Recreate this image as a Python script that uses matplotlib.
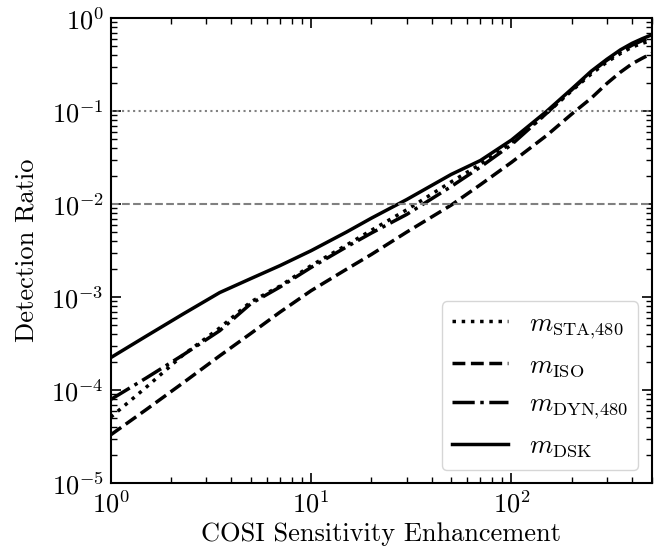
import numpy as np
import matplotlib
matplotlib.use("Agg")
import matplotlib.pyplot as plt

# ----------------------------
# Data (log10 of detection ratio)
# ----------------------------
enhancement = [1, 1.5, 2.3, 3.5, 5, 7, 10, 15, 20, 30, 50, 70, 100, 150, 200,
               250, 300, 350, 400, 450, 500]

log_sta = [-4.29, -3.97, -3.62, -3.33, -3.05, -2.88, -2.66, -2.44, -2.28, -2.06,
           -1.76, -1.57, -1.34, -1.02, -0.78, -0.60, -0.47, -0.38, -0.31, -0.27, -0.24]
log_iso = [-4.48, -4.21, -3.92, -3.63, -3.39, -3.16, -2.93, -2.70, -2.54, -2.30,
           -2.01, -1.79, -1.55, -1.26, -1.03, -0.86, -0.70, -0.58, -0.49, -0.43, -0.38]
log_dyn = [-4.10, -3.87, -3.62, -3.36, -3.07, -2.89, -2.68, -2.46, -2.31, -2.11,
           -1.81, -1.60, -1.36, -1.02, -0.77, -0.58, -0.45, -0.36, -0.29, -0.24, -0.21]
log_dsk = [-3.65, -3.42, -3.18, -2.95, -2.80, -2.66, -2.50, -2.30, -2.15, -1.95,
           -1.68, -1.53, -1.31, -1.00, -0.76, -0.57, -0.44, -0.34, -0.27, -0.22, -0.18]

labels = [r"$m_{\mathrm{STA{,}480}}$", r"$m_{\mathrm{ISO}}$",
          r"$m_{\mathrm{DYN{,}480}}$", r"$m_{\mathrm{DSK}}$"]
styles = [":", "--", "-.", "-"]
thresholds = [0.1, 0.01]
threshold_styles = [":", "--"]

# ----------------------------
# Style
# ----------------------------
plt.rcParams["font.family"] = "serif"
plt.rcParams["font.serif"] = ["cmr10"]
plt.rcParams["mathtext.fontset"] = "cm"
plt.rcParams["axes.formatter.use_mathtext"] = True
plt.rcParams["font.size"] = 19

fig = plt.figure(figsize=(6.71, 5.51), dpi=100)
ax = fig.add_axes([0.165, 0.123, 0.806, 0.844])

x = np.array(enhancement)
for yl, ls, lab in zip([log_sta, log_iso, log_dyn, log_dsk], styles, labels):
    ax.plot(x, 10 ** np.array(yl), color="black", linestyle=ls, linewidth=2.5, label=lab)

for t, ls in zip(thresholds, threshold_styles):
    ax.axhline(t, color="gray", linestyle=ls, linewidth=1.5)

ax.set_xscale("log")
ax.set_yscale("log")
ax.set_xlim(1, 500)
ax.set_ylim(1e-5, 1)

ax.set_xlabel("COSI Sensitivity Enhancement")
ax.set_ylabel("Detection Ratio", labelpad=9)

ax.tick_params(which="both", direction="in", top=True, right=True, labelsize=19)
ax.tick_params(which="major", length=7, width=1.2, pad=5)
ax.tick_params(which="minor", length=4, width=1)
for s in ax.spines.values():
    s.set_linewidth(1.5)

ax.legend(loc="lower right", fontsize=19, handlelength=2.1, fancybox=True)

fig.savefig("out.png", dpi=100)
